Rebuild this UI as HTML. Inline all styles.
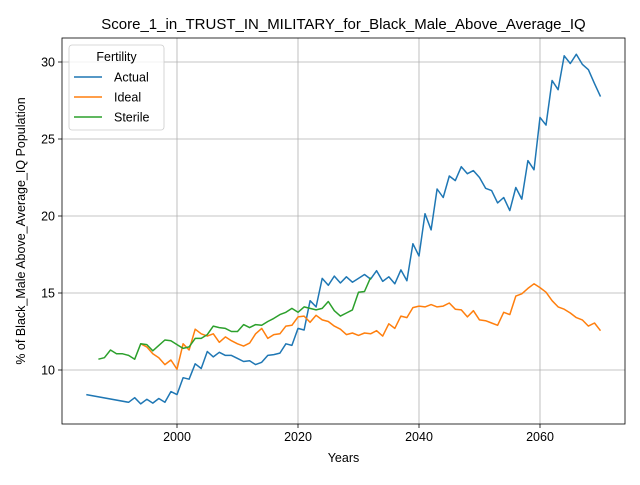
<!DOCTYPE html>
<html><head><meta charset="utf-8"><style>body{margin:0;background:#fff}svg{font-family:"Liberation Sans","DejaVu Sans",sans-serif}</style></head>
<body>
<svg id="chart" width="640" height="480" xmlns="http://www.w3.org/2000/svg">
<rect width="640" height="480" fill="#fff"/>
<g id="grid"></g><g id="series"></g><g id="axes"></g>
</svg>
<script>
const actualYears=[1985,1992,1993,1994,1995,1996,1997,1998,1999,2000,2001,2002,2003,2004,2005,2006,2007,2008,2009,2010,2011,2012,2013,2014,2015,2016,2017,2018,2019,2020,2021,2022,2023,2024,2025,2026,2027,2028,2029,2030,2031,2032,2033,2034,2035,2036,2037,2038,2039,2040,2041,2042,2043,2044,2045,2046,2047,2048,2049,2050,2051,2052,2053,2054,2055,2056,2057,2058,2059,2060,2061,2062,2063,2064,2065,2066,2067,2068,2069,2070];
const actualValues=[8.4,7.9,8.2,7.8,8.1,7.85,8.15,7.9,8.6,8.4,9.5,9.4,10.4,10.1,11.2,10.85,11.15,10.95,10.95,10.75,10.55,10.6,10.35,10.5,10.95,11.0,11.1,11.7,11.6,12.7,12.6,14.5,14.1,15.95,15.5,16.1,15.65,16.05,15.7,15.95,16.2,15.9,16.45,15.75,16.05,15.6,16.5,15.8,18.2,17.4,20.15,19.1,21.75,21.2,22.6,22.3,23.2,22.75,22.95,22.5,21.8,21.65,20.85,21.2,20.35,21.85,21.1,23.6,23.0,26.4,25.9,28.8,28.2,30.4,29.9,30.5,29.85,29.5,28.6,27.75];
const idealStart=1994;
const idealValues=[11.7,11.5,11.05,10.8,10.35,10.65,10.05,11.7,11.3,12.65,12.35,12.2,12.35,11.8,12.15,11.9,11.7,11.55,11.75,12.35,12.7,12.05,12.3,12.35,12.85,12.9,13.45,13.5,13.1,13.55,13.25,13.15,12.85,12.65,12.3,12.4,12.25,12.4,12.35,12.55,12.2,13.0,12.7,13.5,13.4,14.05,14.15,14.1,14.25,14.1,14.15,14.35,13.95,13.9,13.45,13.85,13.25,13.2,13.05,12.9,13.75,13.6,14.8,14.95,15.3,15.6,15.35,15.05,14.5,14.1,13.95,13.7,13.4,13.25,12.85,13.05,12.55];
const sterileStart=1987;
const sterileValues=[10.7,10.8,11.3,11.05,11.05,10.95,10.7,11.7,11.65,11.25,11.6,11.95,11.9,11.65,11.4,11.5,12.05,12.05,12.3,12.85,12.75,12.7,12.5,12.5,12.95,12.75,12.95,12.9,13.15,13.35,13.6,13.75,14.0,13.75,14.1,14.0,13.9,14.0,14.45,13.85,13.5,13.7,13.9,15.05,15.1,16.0];
const xTicks=[2000,2020,2040,2060];
const yTicks=[10,15,20,25,30];
const L=62,R=625,T=38,B=424;
const x=yr=>177+(yr-2000)*6.05;
const y=v=>370-(v-10)*15.4;
const NS="http://www.w3.org/2000/svg";
function mk(tag,attrs,parent,text){const e=document.createElementNS(NS,tag);for(const k in attrs)e.setAttribute(k,attrs[k]);if(text!==undefined)e.textContent=text;parent.appendChild(e);return e;}
const grid=document.getElementById('grid'),ser=document.getElementById('series'),ax=document.getElementById('axes');
xTicks.forEach(t=>{const g=mk('line',{x1:x(t),x2:x(t),y1:T,y2:B,stroke:'#b0b0b0','stroke-width':0.8},grid);
 const tk=mk('line',{x1:x(t),x2:x(t),y1:B,y2:B+4,stroke:'#000','stroke-width':0.8},ax);
 const lb=mk('text',{x:x(t),y:B+17,'text-anchor':'middle','font-size':12.5},ax,t);});
yTicks.forEach(t=>{const g=mk('line',{x1:L,x2:R,y1:y(t),y2:y(t),stroke:'#b0b0b0','stroke-width':0.8},grid);
 const tk=mk('line',{x1:L-4,x2:L,y1:y(t),y2:y(t),stroke:'#000','stroke-width':0.8},ax);
 const lb=mk('text',{x:L-7,y:y(t)+4.5,'text-anchor':'end','font-size':12.5},ax,t);});
function line(years,vals,color,name){const d=vals.map((v,i)=>(i?'L':'M')+x(years[i]).toFixed(1)+','+y(v).toFixed(1)).join('');const p=mk('path',{d:d,fill:'none',stroke:color,'stroke-width':1.5,'stroke-linejoin':'round'},ser);}
line(actualYears,actualValues,'#1f77b4','actual-line');
line(idealValues.map((_,i)=>idealStart+i),idealValues,'#ff7f0e','ideal-line');
line(sterileValues.map((_,i)=>sterileStart+i),sterileValues,'#2ca02c','sterile-line');
const fr=mk('rect',{x:L,y:T,width:R-L,height:B-T,fill:'none',stroke:'#000','stroke-width':0.8},ax);
let t=mk('text',{x:343.5,y:29,'text-anchor':'middle','font-size':15},ax,'Score_1_in_TRUST_IN_MILITARY_for_Black_Male_Above_Average_IQ');
t=mk('text',{x:343.5,y:462,'text-anchor':'middle','font-size':12.5},ax,'Years');
t=mk('text',{x:25,y:231,'text-anchor':'middle','font-size':12.5,transform:'rotate(-90 25 231)'},ax,'% of Black_Male Above_Average_IQ Population');
const lg=mk('g',{},ax);
mk('rect',{x:69,y:45,width:95,height:85,rx:3,fill:'#fff','fill-opacity':0.8,stroke:'#ccc','stroke-width':0.8},lg);
mk('text',{x:116.5,y:61,'text-anchor':'middle','font-size':12.5},lg,'Fertility');
[['Actual','#1f77b4'],['Ideal','#ff7f0e'],['Sterile','#2ca02c']].forEach((e,i)=>{const yy=77+i*20;const g=mk('g',{},lg);
 mk('line',{x1:74,x2:102,y1:yy,y2:yy,stroke:e[1],'stroke-width':1.5},g);mk('text',{x:114,y:yy+4.5,'font-size':12.5},g,e[0]);});
</script>
</body></html>
